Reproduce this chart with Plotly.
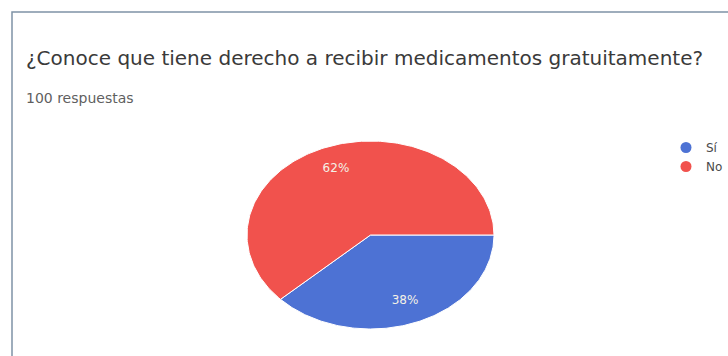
import numpy as np
import plotly.graph_objects as go

# Survey results
question = "¿Conoce que tiene derecho a recibir medicamentos gratuitamente?"
responses_label = "100 respuestas"
categories = ["Sí", "No"]
values = [38, 62]
colors = ["#4d72d4", "#f1524d"]

W, H = 728, 356

fig = go.Figure()

# Slices go clockwise from the 3 o'clock position, drawn on a unit-range axis
total = sum(values)
start = 0.0
label_r = 0.76
for name, v, c in zip(categories, values, colors):
    sweep = 360.0 * v / total
    ang = np.radians(np.linspace(start, start - sweep, 200))
    xs = np.concatenate([[0], np.cos(ang), [0]])
    ys = np.concatenate([[0], np.sin(ang), [0]])
    fig.add_trace(go.Scatter(
        x=xs, y=ys, mode="lines", fill="toself", fillcolor=c,
        line=dict(color="#ffffff", width=1), showlegend=False,
        hoverinfo="skip",
    ))
    mid = np.radians(start - sweep / 2)
    fig.add_trace(go.Scatter(
        x=[label_r * np.cos(mid)], y=[label_r * np.sin(mid)], mode="text",
        text=[f"{round(100 * v / total)}%"],
        textfont=dict(family="DejaVu Sans", size=12, color="#f4f1e6"),
        showlegend=False, hoverinfo="skip",
    ))
    start -= sweep

# Legend entries with round swatches
for name, c in zip(categories, colors):
    fig.add_trace(go.Scatter(
        x=[None], y=[None], mode="markers", name=name,
        marker=dict(symbol="circle", size=11, color=c),
    ))

fig.update_xaxes(domain=[247 / W, 494 / W], range=[-1, 1], visible=False)
fig.update_yaxes(domain=[1 - 329 / H, 1 - 141 / H], range=[-1, 1], visible=False)

fig.update_layout(
    width=W, height=H,
    margin=dict(l=0, r=0, t=0, b=0, autoexpand=False),
    paper_bgcolor="#ffffff", plot_bgcolor="rgba(0,0,0,0)",
    showlegend=True,
    legend=dict(
        x=666 / W, y=1 - 133 / H, xanchor="left", yanchor="top",
        font=dict(family="DejaVu Sans", size=12, color="#4a4a4a"),
        bgcolor="rgba(0,0,0,0)", itemwidth=30, tracegroupgap=0,
    ),
    shapes=[dict(
        type="rect", xref="paper", yref="paper",
        x0=12 / W, x1=1.05, y0=-0.05, y1=1 - 12 / H,
        line=dict(color="#7f93a6", width=1.5), fillcolor="rgba(0,0,0,0)",
        layer="below",
    )],
    annotations=[
        dict(text=question, x=24 / W, y=1 - 58 / H, xref="paper", yref="paper",
             xanchor="left", yanchor="middle", showarrow=False,
             font=dict(family="DejaVu Sans", size=20, color="#3a3a3a")),
        dict(text=responses_label, x=24 / W, y=1 - 98 / H, xref="paper", yref="paper",
             xanchor="left", yanchor="middle", showarrow=False,
             font=dict(family="DejaVu Sans", size=14, color="#5f5f5f")),
    ],
)

fig.write_html("out.html")
